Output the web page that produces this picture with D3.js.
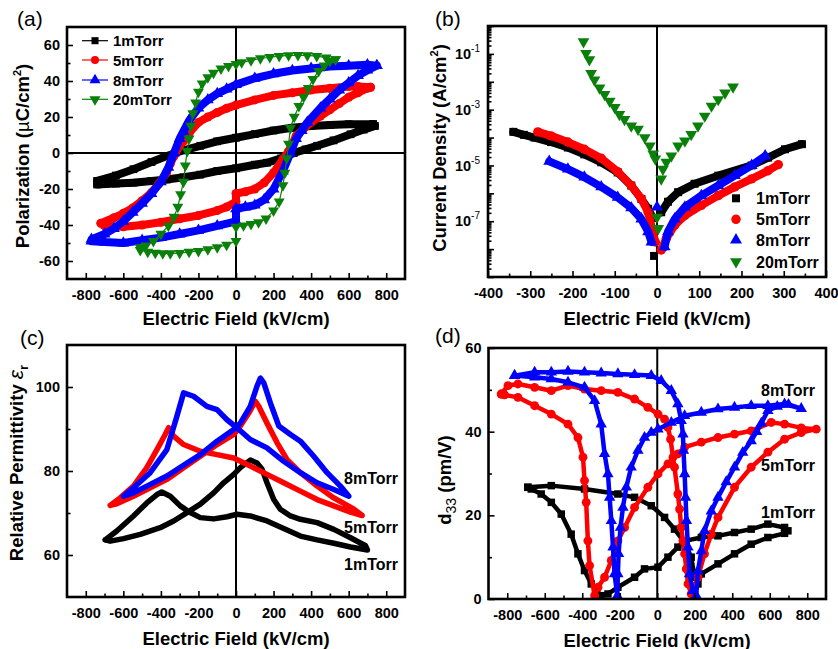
<!DOCTYPE html>
<html><head><meta charset="utf-8">
<script src="https://cdn.jsdelivr.net/npm/d3@7"></script>
<style>body{margin:0;background:#fff}</style>
</head><body><script>
// ===================== DATA =====================
const seriesNames = ["1mTorr","5mTorr","8mTorr","20mTorr"];

// (a) P-E loops  [E (kV/cm), P (uC/cm2)]
const pe1mTorr = [[730,16],[600,16],[500,15.5],[400,15],[300,14],[200,12.5],[100,10.5],[0,8.5],[-100,6.5],[-190,4],[-280,1.5],[-368,-1.7],[-450,-5],[-546,-9],[-640,-12.5],[-740,-15.5],
  [-740,-17.5],[-640,-17],[-546,-16.5],[-450,-15.5],[-368,-14.7],[-280,-13.5],[-190,-12],[-100,-10],[0,-8.5],[100,-6.5],[165,-5.4],[240,-3],[308,0],[370,2],[432,4],[520,7],[610,10.4],[680,13],[740,15],[730,16]];
const pe5mTorr = [[716,36.5],[650,37],[600,37],[500,36],[400,35],[300,33.5],[200,32],[100,29.5],[0,26.6],[-50,24.8],[-100,22.5],[-150,20],[-200,17],[-250,11],[-280,6.5],[-300,4],[-330,-1.7],[-350,-6],[-370,-11],[-410,-17],[-450,-22],[-500,-26.5],[-550,-30.5],[-600,-33.5],[-650,-36],[-720,-39],
  [-700,-40.5],[-600,-41],[-500,-40],[-400,-38.5],[-300,-36.5],[-200,-34.7],[-100,-32],[-50,-30],[0,-27],[0,-22.5],[50,-21.5],[100,-20],[150,-16.5],[200,-11],[250,-3.5],[280,1],[320,9.5],[360,13.5],[400,17],[450,20.5],[500,24],[550,27.5],[600,31],[650,33.5],[700,36],[716,36.5]];
const pe8mTorr = [[750,48.5],[700,49],[600,48.5],[500,48],[400,47],[300,45.8],[200,44],[100,41.5],[0,38],[-50,35.5],[-100,33],[-150,29.5],[-200,25],[-250,18],[-280,12],[-300,8],[-330,0],[-360,-8],[-400,-16],[-450,-22.5],[-500,-28],[-550,-33],[-600,-38],[-650,-42],[-700,-45],[-770,-48],
  [-770,-49],[-700,-49.5],[-600,-50],[-500,-48.5],[-400,-47],[-300,-45],[-200,-43],[-100,-40.5],[0,-38],[0,-31],[50,-30],[100,-29],[150,-26],[200,-20],[250,-10],[290,0],[320,8],[350,12.5],[380,17],[450,25],[500,30],[550,35],[600,39],[650,43],[700,46],[750,48.5]];
const pe20mTorr = [[530,52],[480,53],[430,53.8],[380,54.2],[330,54.3],[280,54.2],[230,53.8],[180,53.2],[130,52.5],[80,51.5],[30,50.3],[0,49.4],[-40,48.2],[-80,46.8],[-120,44.5],[-150,42],[-180,38.5],[-200,34],[-215,28],[-230,22],[-240,15],[-250,8],[-260,1],[-270,-7],[-280,-16],[-295,-23],[-310,-30],[-330,-35.5],[-360,-40.5],[-400,-45],[-440,-49],[-480,-51.5],[-510,-52.5],
  [-510,-54],[-470,-55],[-430,-55.5],[-390,-55.8],[-350,-55.8],[-300,-55.6],[-250,-55],[-200,-54.5],[-150,-53.5],[-100,-52.5],[-50,-51],[0,-49],[0,-41],[40,-40.3],[80,-39.5],[120,-38.5],[160,-36.5],[200,-32],[230,-27],[250,-18],[260,-11],[270,-3],[280,5],[290,14],[310,20],[335,26],[360,31],[385,36],[410,41],[440,45.5],[470,48.5],[500,51],[530,52]];

// (b) J-E  [E (kV/cm), J (A/cm2)]
const jv1mTorrNeg = [[-340,1.6e-4],[-315,1.25e-4],[-290,1.0e-4],[-251,6.9e-5],[-211,4.4e-5],[-172,2.5e-5],[-132,1.3e-5],[-93,5.6e-6],[-61,1.9e-6],[-37,6.3e-7],[-21,2.8e-7],[-10,1.3e-7]];
const jv1mTorrNear = [[-7,5.7e-9]];
const jv1mTorrPos = [[10,2.1e-7],[26,5e-7],[50,1.1e-6],[89,2.2e-6],[145,4.3e-6],[224,1e-5],[263,1.9e-5],[303,3.8e-5],[343,5.8e-5]];
const jv5mTorrNeg = [[-282,1.6e-4],[-251,1.15e-4],[-211,6.9e-5],[-172,3.8e-5],[-132,1.8e-5],[-93,6e-6],[-61,1.9e-6],[-37,6.3e-7],[-21,2.1e-7],[-10,4.2e-8],[-4,1.8e-8]];
const jv5mTorrNear = [];
const jv5mTorrPos = [[10,9.3e-9],[22,2.4e-8],[42,7.2e-8],[66,1.6e-7],[105,3.7e-7],[145,8.3e-7],[184,1.7e-6],[224,3.3e-6],[263,6.5e-6],[287,1.07e-5]];
const jv8mTorrNeg = [[-255,1.4e-5],[-211,7.4e-6],[-172,3.8e-6],[-132,1.7e-6],[-93,7.2e-7],[-61,3e-7],[-37,1.2e-7],[-21,4.2e-8],[-13,1.8e-8]];
const jv8mTorrNear = [[0,3.2e-7]];
const jv8mTorrPos = [[18,1.2e-8],[26,4.2e-8],[42,1.2e-7],[66,3.2e-7],[105,8.3e-7],[145,1.9e-6],[184,4.3e-6],[224,1e-5],[256,2.2e-5]];
const jv20mTorrNeg = [[-174,0.275],[-168,0.105],[-160,0.062],[-156,0.020],[-148,0.0117],[-136,6.0e-3],[-124,3.5e-3],[-112,2.0e-3],[-100,1.2e-3],[-89,6.8e-4],[-77,4.5e-4],[-61,2.6e-4],[-45,2.0e-4],[-29,1.0e-4],[-17,5.0e-5],[-9,2.6e-5],[-4,1.7e-5]];
const jv20mTorrNear = [[0,1.4e-7],[3,5.5e-8]];
const jv20mTorrPos = [[10,3.3e-6],[14,7.4e-6],[22,1.3e-5],[34,2.2e-5],[50,5e-5],[66,7.6e-5],[81,1.3e-4],[97,2.6e-4],[113,5.9e-4],[129,1.35e-3],[145,2.3e-3],[161,4e-3],[180,6.5e-3]];

// (c) permittivity loops [E, eps_r]
const eps1mTorr = [[-697,63.6],[-635,65.7],[-546,69.3],[-475,72.4],[-421,74.4],[-395,75],[-350,74],[-297,71.7],[-244,70.1],[-190,68.9],[-119,68.6],[-48,69.1],[5,69.7],[76,69.3],[165,68.1],[254,66.3],[343,64.5],[432,63.6],[521,62.8],[610,61.9],[700,61.2],
  [690,62.2],[610,64.1],[521,66.1],[432,67.7],[343,68.5],[290,69.3],[236,70.9],[201,73.2],[165,77.2],[139,80.4],[112,81.9],[76,82.6],[23,80.8],[-12,79.2],[-66,77.2],[-119,74.8],[-190,72.1],[-261,70.1],[-332,68.1],[-404,66.5],[-510,64.9],[-599,63.9],[-670,63.3],[-697,63.6]];
const eps5mTorr = [[-670,71.8],[-617,73.6],[-546,76.4],[-475,80.8],[-421,85.1],[-377,88.7],[-359,90.3],[-332,88.3],[-279,86.3],[-190,84.7],[-101,83.9],[-12,83.1],[76,81.2],[165,79.2],[254,77.2],[343,75.2],[432,73.2],[521,71.7],[610,70.2],[672,69.4],
  [628,70.9],[521,73.6],[432,76.4],[343,79.6],[272,82.7],[219,86.7],[165,91.4],[121,95.4],[103,96.6],[68,93.8],[23,90.7],[-12,88.7],[-101,86.3],[-190,83.5],[-279,80.8],[-368,78],[-457,76],[-546,74],[-635,72.2],[-670,71.8]];
const eps8mTorr = [[-599,74],[-546,76],[-457,79.6],[-368,85.1],[-315,93],[-279,98.6],[-226,97.8],[-155,95.4],[-101,94.6],[-48,92.2],[5,90.3],[76,87.5],[165,85.5],[254,82.3],[343,79.6],[432,77.2],[521,75.6],[601,74],
  [556,76.4],[485,79.6],[414,83.5],[343,87.1],[290,88.7],[228,90.7],[183,96.2],[148,101],[130,102.1],[112,100.2],[76,95.4],[23,91.4],[-12,89.9],[-101,87.1],[-190,83.9],[-261,81.9],[-368,78.8],[-475,76.4],[-546,74.8],[-599,74]];

// (d) d33 loops [E, d33 (pm/V)]
const d33_1mTorr = [[-690,26.7],[-565,27.1],[-388,26.3],[-210,25.1],[-121,24.3],[-32,22.3],[39,19.5],[92,16.7],[146,13.5],[181,10],[199,5.2],[217,3.6],[235,6],[324,8.4],[412,10.8],[501,13.1],[590,14.7],[679,15.7],[697,16.3],
  [679,17.1],[590,17.9],[501,16.7],[412,15.9],[324,15.1],[235,14.7],[146,13.9],[110,12.4],[57,10],[4,7.6],[-68,7.2],[-121,5.2],[-210,2.8],[-263,1.2],[-299,0.8],[-352,3.6],[-388,6.8],[-423,10.8],[-459,15.5],[-512,20.3],[-565,23.1],[-619,25.1],[-672,26.3],[-690,26.7]];
const d33_5mTorr = [[-832,49],[-796,51],[-743,51.4],[-654,50.6],[-565,49.8],[-476,51],[-388,50.2],[-299,49.8],[-210,49.4],[-121,47.8],[-50,45.8],[4,44.2],[39,43],[57,41],[71,38.2],[84,33.9],[92,31.5],[110,25.1],[119,21.5],[128,17.1],[137,13.9],[146,10.8],[155,7.2],[164,3.6],[181,1.2],[217,5.2],[252,10.8],[288,15.5],[324,19.5],[412,26.7],[501,31.5],[590,35.1],[679,38.2],[768,39.8],[848,40.6],
  [768,40.9],[679,41.8],[608,42.2],[501,40.2],[412,39.4],[324,38.6],[235,37.5],[146,36.3],[110,34.7],[57,32.3],[4,29.9],[-50,26.7],[-121,21.9],[-174,17.1],[-210,13.9],[-245,9.2],[-281,5.2],[-316,2.8],[-334,0.8],[-361,8],[-370,13.9],[-379,23.1],[-388,28.3],[-396,33.9],[-423,38.6],[-476,41.8],[-565,44.2],[-654,46.2],[-743,48.2],[-814,48.8],[-832,49]];
const d33_8mTorr = [[-761,53.4],[-654,54.2],[-565,54.2],[-476,54.4],[-388,54.2],[-299,54],[-210,53.8],[-121,53.6],[-32,53.4],[21,52.2],[75,49.8],[110,46.6],[128,42.6],[137,39.4],[140,35.5],[146,29.9],[151,24.3],[156,18.7],[164,12.4],[172,6],[190,2],[208,0.8],[217,6.7],[235,11.5],[252,16.3],[288,21],[324,24.3],[368,28],[412,31.5],[456,35],[501,37.8],[530,40],[555,42],[590,45],[640,46],[700,46.5],[768,45.5],
  [679,46.6],[590,46.2],[501,46.2],[412,45.8],[324,45.4],[235,44.6],[146,43.8],[75,42.2],[4,40.6],[-32,39.8],[-68,38.6],[-103,35.5],[-139,31.5],[-165,26.7],[-183,21.9],[-196,17.1],[-206,10.8],[-210,6],[-213,0.8],[-228,6],[-236,12.4],[-245,18.7],[-254,24.3],[-263,29.9],[-281,34.7],[-299,41.8],[-334,47.4],[-388,50.6],[-476,51.8],[-565,52.6],[-654,53],[-761,53.4]];

// ticks
const xMajorWide = [-800,-600,-400,-200,0,200,400,600,800];
const xMinorWide = [-700,-500,-300,-100,100,300,500,700];
const yMajorPE = [-60,-40,-20,0,20,40,60];
const yMinorPE = [-50,-30,-10,10,30,50];
const xMajorJE = [-400,-300,-200,-100,0,100,200,300,400];
const xMinorJE = [-350,-250,-150,-50,50,150,250,350];
const yExpJE = [0,-1,-2,-3,-4,-5,-6,-7,-8,-9];
const yLabelExpJE = [-1,-3,-5,-7];
const yMajorEps = [60,80,100];
const yMinorEps = [70,90];
const yMajorD33 = [0,20,40,60];
const yMinorD33 = [10,30,50];

// ===================== DRAW =====================
const FONT = '"Liberation Sans", Arial, Helvetica, sans-serif';
const colors = ["#000000","#ff0000","#0000ff","#0a800a"];
const svg = d3.select("body").append("svg").attr("width",838).attr("height",649)
  .style("font-family",FONT);

const boxA = {l:67,r:405,t:27,b:279};
const boxB = {l:488,r:826,t:26,b:277};
const boxC = {l:67,r:405,t:345,b:597};
const boxD = {l:488.5,r:826,t:348,b:599};

const xA = d3.scaleLinear().domain([-900,900]).range([boxA.l,boxA.r]);
const yA = d3.scaleLinear().domain([-70,70]).range([boxA.b,boxA.t]);
const xB = d3.scaleLinear().domain([-400,400]).range([boxB.l,boxB.r]);
const yB = d3.scaleLog().domain([1e-9,1]).range([boxB.b,boxB.t]);
const xC = d3.scaleLinear().domain([-900,900]).range([boxC.l,boxC.r]);
const yC = d3.scaleLinear().domain([50,110]).range([boxC.b,boxC.t]);
const xD = d3.scaleLinear().domain([-900,900]).range([boxD.l,boxD.r]);
const yD = d3.scaleLinear().domain([0,60]).range([boxD.b,boxD.t]);

function styleAxis(g, fs){
  g.select(".domain").remove();
  g.selectAll("line").attr("stroke","#000").attr("stroke-width",1.6);
  g.selectAll("text").attr("font-family",FONT).attr("font-weight","bold").attr("font-size",fs||14.5).attr("fill","#000");
}
function xAxis(x, b, major, minor){
  const g1 = svg.append("g").attr("transform",`translate(0,${b.b})`)
    .call(d3.axisBottom(x).tickValues(minor).tickSize(-3.5).tickFormat(""));
  styleAxis(g1);
  const g2 = svg.append("g").attr("transform",`translate(0,${b.b})`)
    .call(d3.axisBottom(x).tickValues(major).tickSize(-6).tickPadding(10.5).tickFormat(d=>String(d)));
  styleAxis(g2);
}
function yAxis(y, b, major, minor, fmt){
  const g1 = svg.append("g").attr("transform",`translate(${b.l},0)`)
    .call(d3.axisLeft(y).tickValues(minor).tickSize(-3.5).tickFormat(""));
  styleAxis(g1);
  const g2 = svg.append("g").attr("transform",`translate(${b.l},0)`)
    .call(d3.axisLeft(y).tickValues(major).tickSize(-6).tickPadding(7).tickFormat(fmt===undefined?(d=>String(d)):fmt));
  styleAxis(g2);
}
function frame(b){
  svg.append("rect").attr("x",b.l).attr("y",b.t).attr("width",b.r-b.l).attr("height",b.b-b.t)
    .attr("fill","none").attr("stroke","#000").attr("stroke-width",2.6);
}
function zeroV(x,b){ svg.append("line").attr("x1",x(0)).attr("x2",x(0)).attr("y1",b.t).attr("y2",b.b).attr("stroke","#000").attr("stroke-width",2); }
function zeroH(y,b){ svg.append("line").attr("x1",b.l).attr("x2",b.r).attr("y1",y(0)).attr("y2",y(0)).attr("stroke","#000").attr("stroke-width",2); }

const symTypes = [d3.symbolSquare, d3.symbolCircle, d3.symbolTriangle, d3.symbolTriangle];
function marker(g, i, px, py, size){
  g.append("path").attr("d", d3.symbol().type(symTypes[i]).size(size)())
    .attr("transform", `translate(${px},${py})` + (i===3?" rotate(180)":""))
    .attr("fill", colors[i]);
}
function series(x, y, data, i, lw, msize){
  const g = svg.append("g");
  if(lw>0){
    g.append("path").datum(data).attr("d", d3.line().x(d=>x(d[0])).y(d=>y(d[1])))
      .attr("fill","none").attr("stroke",colors[i]).attr("stroke-width",lw)
      .attr("stroke-linejoin","round").attr("stroke-linecap","round");
  }
  if(msize>0) data.forEach(d=>marker(g,i,x(d[0]),y(d[1]),msize));
}
function txt(x,y,s,opt){
  opt = opt||{};
  return svg.append("text").attr("x",x).attr("y",y).text(s)
    .attr("font-size",opt.fs||18.5).attr("font-weight",opt.fw||"bold")
    .attr("text-anchor",opt.anchor||"start").attr("fill","#000").attr("font-family",FONT);
}
function yTitle(x, y, parts){
  const t = svg.append("text").attr("transform",`translate(${x},${y}) rotate(-90)`)
    .attr("text-anchor","middle").attr("font-size",18.5).attr("font-weight","bold").attr("font-family",FONT);
  parts.forEach(p=>{
    const s = t.append("tspan").text(p.t);
    if(p.dy) s.attr("dy",p.dy);
    if(p.fs) s.attr("font-size",p.fs);
    if(p.it) s.attr("font-style","italic");
    if(p.fw) s.attr("font-weight",p.fw);
  });
}

// ---------- (a)
zeroV(xA,boxA); zeroH(yA,boxA);
const peData = [pe1mTorr,pe5mTorr,pe8mTorr,pe20mTorr];
peData.forEach((d,i)=>series(xA,yA,d,i,i===3?1.2:8,i===3?52:(i===1?64:60)));
xAxis(xA,boxA,xMajorWide,xMinorWide);
yAxis(yA,boxA,yMajorPE,yMinorPE);
frame(boxA);
// legend (a)
const legA = [40.7,60,80,99.3];
seriesNames.forEach((n,i)=>{
  svg.append("line").attr("x1",82).attr("x2",108).attr("y1",legA[i]).attr("y2",legA[i]).attr("stroke",colors[i]).attr("stroke-width",1.2);
  marker(svg,i,95,legA[i],i>=2?52:50);
  txt(113,legA[i]+5.5,n,{fs:15});
});
txt(17,26,"(a)",{fs:21,fw:"normal"});
txt(236,325,"Electric Field (kV/cm)",{anchor:"middle"});
yTitle(29,156,[{t:"Polarization ("},{t:"\u00b5",fw:"normal"},{t:"C/cm"},{t:"2",fs:11,dy:-8},{t:")",dy:8}]);

// ---------- (b)
zeroV(xB,boxB);
const jvNeg = [jv1mTorrNeg,jv5mTorrNeg,jv8mTorrNeg,jv20mTorrNeg];
const jvPos = [jv1mTorrPos,jv5mTorrPos,jv8mTorrPos,jv20mTorrPos];
const jvNear = [jv1mTorrNear,jv5mTorrNear,jv8mTorrNear,jv20mTorrNear];
[0,1,2,3].forEach(i=>{
  const lw = i===3?0:8;
  const ms = i===0?64:(i===1?70:(i===2?62:60));
  series(xB,yB,jvNeg[i],i,lw,ms);
  series(xB,yB,jvPos[i],i,lw,ms);
  series(xB,yB,jvNear[i],i,0,ms);
});
xAxis(xB,boxB,xMajorJE,xMinorJE);
const yMinorJE = [];
yExpJE.slice(1).forEach(e=>{ for(let m=2;m<=9;m++) yMinorJE.push(m*Math.pow(10,e)); });
yAxis(yB,boxB,yExpJE.map(e=>Math.pow(10,e)),yMinorJE,"");
yLabelExpJE.forEach(e=>{
  const t = svg.append("text").attr("x",boxB.l-8).attr("y",yB(Math.pow(10,e))).attr("dy","0.35em")
    .attr("text-anchor","end").attr("font-size",14.5).attr("font-weight","bold").attr("font-family",FONT);
  t.append("tspan").text("10");
  t.append("tspan").text(String(e)).attr("font-size",10).attr("dy",-7).attr("font-weight","normal");
});
frame(boxB);
const legB = [198.3,219.3,240,261.7];
seriesNames.forEach((n,i)=>{
  marker(svg,i,736,legB[i],i===0?64:(i===1?70:62));
  txt(756,legB[i]+6,n,{fs:16});
});
txt(435,26,"(b)",{fs:21,fw:"normal"});
txt(657,325,"Electric Field (kV/cm)",{anchor:"middle"});
yTitle(446,148,[{t:"Current Density (A/cm"},{t:"2",fs:11,dy:-8},{t:")",dy:8}]);

// ---------- (c)
zeroV(xC,boxC);
[eps1mTorr,eps5mTorr,eps8mTorr].forEach((d,i)=>series(xC,yC,d,i,5.5,0));
xAxis(xC,boxC,xMajorWide,xMinorWide);
yAxis(yC,boxC,yMajorEps,yMinorEps);
frame(boxC);
txt(344,484,"8mTorr",{fs:16});
txt(344,533,"5mTorr",{fs:16});
txt(344,570,"1mTorr",{fs:16});
txt(20,345,"(c)",{fs:21,fw:"normal"});
txt(236,645,"Electric Field (kV/cm)",{anchor:"middle"});
yTitle(23,463,[{t:"Relative Permittivity "},{t:"\u03b5",it:true,fs:21,fw:"normal"},{t:"r",fs:13,dy:5}]);

// ---------- (d)
zeroV(xD,boxD);
[d33_1mTorr,d33_5mTorr,d33_8mTorr].forEach((d,i)=>series(xD,yD,d,i,4.5,i===1?62:56));
xAxis(xD,boxD,xMajorWide,xMinorWide);
yAxis(yD,boxD,yMajorD33,yMinorD33);
frame(boxD);
txt(761,396,"8mTorr",{fs:16});
txt(761,471,"5mTorr",{fs:16});
txt(761,517.5,"1mTorr",{fs:16});
txt(435,343,"(d)",{fs:21,fw:"normal"});
txt(657,646.5,"Electric Field (kV/cm)",{anchor:"middle"});
yTitle(451,480,[{t:"d"},{t:"33",fs:14,dy:5,fw:"normal"},{t:" (pm/V)",dy:-5}]);
</script></body></html>
